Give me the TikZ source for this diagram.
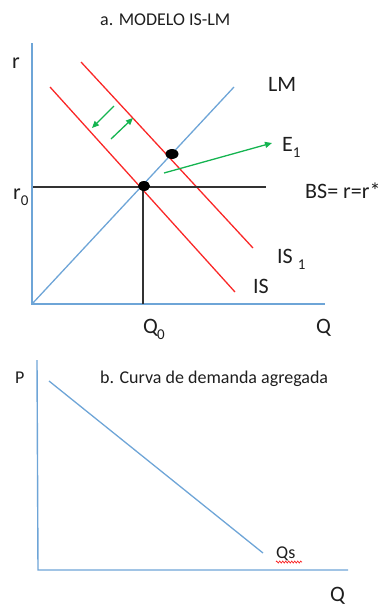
\documentclass[tikz,border=0pt]{standalone}
\usepackage{fontspec}
\setmainfont{Carlito}
\usetikzlibrary{arrows.meta,decorations.pathmorphing}
\definecolor{axblue}{RGB}{110,165,215}
\definecolor{isred}{RGB}{250,40,40}
\definecolor{arrgreen}{RGB}{20,180,80}
\definecolor{guide}{RGB}{50,50,50}
\definecolor{txt}{RGB}{30,30,30}
\newcommand{\sbx}[1]{\raisebox{-0.28em}{\fontsize{15}{15}\selectfont #1}}
\tikzset{
  lbl/.style={inner sep=0pt, text=txt, anchor=base west, font=\fontsize{22}{24}\selectfont},
  ttl/.style={inner sep=0pt, text=txt, anchor=base west, font=\fontsize{18}{20}\selectfont},
  axisline/.style={draw=axblue, line width=1.4pt},
  curveblue/.style={draw=axblue, line width=1.3pt},
  isline/.style={draw=isred, line width=1.3pt},
  guideline/.style={draw=guide, line width=1.2pt},
  shiftarrow/.style={draw=arrgreen, line width=1.3pt, -{Triangle[length=7pt,width=6pt]}},
}
\begin{document}
\begin{tikzpicture}[x=1pt,y=-1pt]
\useasboundingbox (0,0) rectangle (384,608);
% ---------- panel a ----------
\node[ttl] (titleA) at (100,25) {a. MODELO IS-LM};
\node[lbl] (rlab) at (12,68) {r};
\coordinate (oA) at (32,304);
\coordinate (yA) at (32,43);
\coordinate (xA) at (325,304);
\draw[axisline] (yA) -- (oA) -- (xA);
% LM
\coordinate (lmEnd) at (234,87);
\draw[curveblue] (oA) -- (lmEnd);
\node[lbl] (lmlab) at (268,91) {LM};
% IS curves
\coordinate (isA) at (50,87);
\coordinate (isB) at (235,292);
\draw[isline] (isA) -- (isB);
\coordinate (is1A) at (81,62);
\coordinate (is1B) at (253,248);
\draw[isline] (is1A) -- (is1B);
\node[lbl] (islab) at (253,293) {IS};
\node[lbl] (is1lab) at (277,263) {IS \sbx{1}};
% BS line and Q0 guide
\coordinate (bsA) at (33,187);
\coordinate (bsB) at (266,187);
\draw[guideline] (bsA) -- (bsB);
\coordinate (e0) at (143,187);
\coordinate (q0foot) at (143,304);
\draw[guideline] (e0) -- (q0foot);
\node[lbl] (bslab) at (305,198) {BS= r=r*};
\node[lbl] (r0lab) at (13,199) {r\sbx{0}};
\node[lbl] (q0lab) at (143,333) {Q\kern-1pt\sbx{0}};
\node[lbl] (qAlab) at (316,333) {Q};
% equilibrium points
\fill (144,186) ellipse (6 and 5);
\fill (172,154) ellipse (6.5 and 5);
% green arrows
\coordinate (g1s) at (114,106);
\coordinate (g1e) at (92,128);
\draw[shiftarrow] (g1s) -- (g1e);
\coordinate (g2s) at (111,139);
\coordinate (g2e) at (133,118);
\draw[shiftarrow] (g2s) -- (g2e);
\coordinate (g3s) at (164,173);
\coordinate (g3e) at (272,143);
\draw[shiftarrow] (g3s) -- (g3e);
\node[lbl] (e1lab) at (282,151) {E\sbx{1}};
% ---------- panel b ----------
\node[ttl] (plab) at (15,383) {P};
\node[ttl] (titleB) at (100,383) {b. Curva de demanda agregada};
\coordinate (oB) at (38,570);
\coordinate (yB) at (37,360);
\coordinate (xB) at (348,570);
\draw[axisline] (yB) -- (oB) -- (xB);
\coordinate (adA) at (49,381);
\coordinate (adB) at (263,553);
\draw[curveblue] (adA) -- (adB);
\node[ttl] (qslab) at (276,558) {Qs};
\draw[isred, line width=0.7pt, decorate, decoration={zigzag, segment length=3pt, amplitude=1pt}] (276,562) -- (302,562);
\node[lbl] (qBlab) at (330,601) {Q};
\end{tikzpicture}
\end{document}
